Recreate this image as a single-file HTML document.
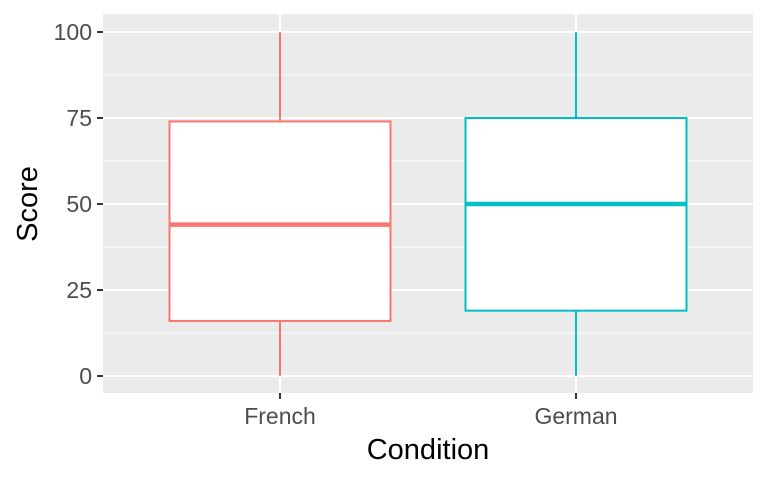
<!DOCTYPE html>
<html><head><meta charset="utf-8"><style>body{margin:0;background:#fff}svg{display:block}text{font-family:"Liberation Sans",sans-serif}</style></head>
<body>
<svg id="chart" width="768" height="480" xmlns="http://www.w3.org/2000/svg">
<rect x="103" y="14" width="650" height="379" fill="#ebebeb"/>
<g id="grid"></g><g id="boxes"></g><g id="axes"></g>
<text x="428" y="459" font-size="29" text-anchor="middle" fill="#000">Condition</text>
<text transform="translate(37,204) rotate(-90)" font-size="29" text-anchor="middle" fill="#000">Score</text>
</svg>
<script>
const categories=["French","German"];
const colors=["#f8766d","#00bfc4"];
const mins=[0,0];
const q1s=[16,19];
const medians=[44,50];
const q3s=[74,75];
const maxs=[100,100];
const yTicks=[0,25,50,75,100];
const NS="http://www.w3.org/2000/svg";
const y=v=>376-v*3.44;
const x=i=>280+i*296;
const halfW=110.5;
function mk(tag,attrs,parent){const e=document.createElementNS(NS,tag);for(const k in attrs)e.setAttribute(k,attrs[k]);parent.appendChild(e);return e;}
const grid=document.getElementById('grid'),boxes=document.getElementById('boxes'),axes=document.getElementById('axes');
for(let i=0;i<yTicks.length-1;i++){const v=(yTicks[i]+yTicks[i+1])/2;
const l=mk('line',{x1:103,x2:753,y1:y(v),y2:y(v),stroke:'#fff','stroke-width':1},grid);

}
yTicks.forEach(v=>{const l=mk('line',{x1:103,x2:753,y1:y(v),y2:y(v),stroke:'#fff','stroke-width':2},grid);


const t=mk('line',{x1:97,x2:103,y1:y(v),y2:y(v),stroke:'#333','stroke-width':2},axes);


const tx=mk('text',{x:92,y:y(v)+8,'font-size':23,'text-anchor':'end',fill:'#4d4d4d'},axes);tx.textContent=v;

});
categories.forEach((c,i)=>{const cx=x(i);
const g=mk('line',{x1:cx,x2:cx,y1:14,y2:393,stroke:'#fff','stroke-width':2},grid);


const t=mk('line',{x1:cx,x2:cx,y1:393,y2:399,stroke:'#333','stroke-width':2},axes);


const tx=mk('text',{x:cx,y:424,'font-size':23,'text-anchor':'middle',fill:'#4d4d4d'},axes);tx.textContent=c;


const bg=mk('g',{},boxes);


mk('line',{x1:cx,x2:cx,y1:y(maxs[i]),y2:y(q3s[i]),stroke:colors[i],'stroke-width':2},bg);
mk('line',{x1:cx,x2:cx,y1:y(q1s[i]),y2:y(mins[i]),stroke:colors[i],'stroke-width':2},bg);
mk('rect',{x:cx-halfW,y:y(q3s[i]),width:2*halfW,height:y(q1s[i])-y(q3s[i]),fill:'#fff',stroke:colors[i],'stroke-width':2},bg);
mk('line',{x1:cx-halfW,x2:cx+halfW,y1:y(medians[i]),y2:y(medians[i]),stroke:colors[i],'stroke-width':4.5},bg);
});
</script>
</body></html>
